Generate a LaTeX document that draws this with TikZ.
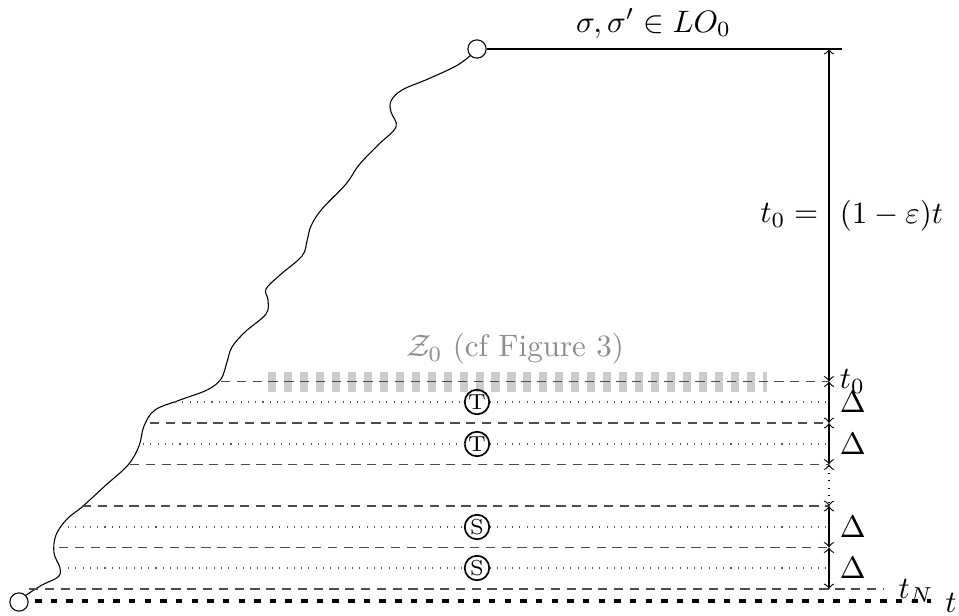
\documentclass[tikz,border=0pt]{standalone}
\begin{document}
\begin{tikzpicture}[x=0.3226pt,y=-0.3226pt,line width=0.35pt,
  endpt/.style={circle,draw,inner sep=0pt,minimum size=5.9pt},
  letter/.style={circle,draw,line width=0.55pt,inner sep=0pt,minimum size=7.9pt,font=\scriptsize},
  lvl/.style={black!70,dash pattern=on 3pt off 2.1pt},
  mid/.style={black!65,dotted},
  meas/.style={<->},
  zband/.style={black!20,line width=6.45pt,dash pattern=on 2.6pt off 2.55pt},
  timeline/.style={line width=1.6pt,dash pattern=on 2.1pt off 2.95pt},
]
\useasboundingbox (0,0) rectangle (959,615);

% end points
\node[endpt] (top) at (477,49) {};
\node[endpt] (bot) at (19,602) {};
\coordinate (topR) at (842,49);
\draw (top) -- node[above,pos=0.47] {$\sigma,\sigma'\in LO_0$} (topR);

% wavy trajectory
\draw plot[smooth,tension=0.6] coordinates {
 (25.5,595.5) (42,585) (58,577) (60,568) (54,553) (56,535) (67,519) (82,507)
 (106,485) (128,465) (139,446) (144,426) (155,410) (180,400) (207,390) (221,379)
 (227,362) (232,347) (245,332) (266,314) (268,300) (266,289) (280,275)
 (302,256) (307,241) (311,226) (322,209) (346,184) (359,165) (378,145)
 (396,127) (391,112) (391,101) (402,90) (428,79) (456,66) (470.5,55.5)};

% measuring axis
\coordinate (a0) at (829,49);
\coordinate (a1) at (829,381.5);
\coordinate (a2) at (829,423);
\coordinate (a3) at (829,464.5);
\coordinate (a4) at (829,506);
\coordinate (a5) at (829,547.5);
\coordinate (a6) at (829,589);

% Z_0 band
\draw[zband] (268,381.5) -- (767,381.5);
\node[text=black!45] (Z) at (515,349) {$\mathcal{Z}_0$ (cf Figure 3)};

% level lines
\coordinate (s1) at (221,381.5);
\coordinate (s2) at (150,423);
\coordinate (s3) at (130,464.5);
\coordinate (s4) at (82,506);
\coordinate (s5) at (59,547.5);
\coordinate (s6) at (29,589);
\coordinate (e6) at (883,589);
\draw[lvl] (s1) -- (a1);
\draw[lvl] (s2) -- (a2);
\draw[lvl] (s3) -- (a3);
\draw[lvl] (s4) -- (a4);
\draw[lvl] (s5) -- (a5);
\draw[lvl] (s6) -- (e6);

% middle dotted lines with markers
\node[letter] (T1) at (477,402) {T};
\node[letter] (T2) at (477,444) {T};
\node[letter] (S1) at (477,527) {S};
\node[letter] (S2) at (477,568) {S};
\coordinate (d1) at (175,402);
\coordinate (f1) at (828,402);
\coordinate (d2) at (143,444);
\coordinate (f2) at (828,444);
\coordinate (d3) at (68,527);
\coordinate (f3) at (828,527);
\coordinate (d4) at (68,568);
\coordinate (f4) at (828,568);
\draw[mid] (d1) -- (T1) (T1) -- (f1);
\draw[mid] (d2) -- (T2) (T2) -- (f2);
\draw[mid] (d3) -- (S1) (S1) -- (f3);
\draw[mid] (d4) -- (S2) (S2) -- (f4);

% arrows
\draw[meas] (a0) -- node[right] {$(1-\varepsilon)t$} node[left] {$t_0=$} (a1);
\draw[meas] (a1) -- node[right] {$\Delta$} (a2);
\draw[meas] (a2) -- node[right] {$\Delta$} (a3);
\draw[meas,dotted] (a3) -- (a4);
\draw[meas] (a4) -- node[right] {$\Delta$} (a5);
\draw[meas] (a5) -- node[right] {$\Delta$} (a6);
\node[right] (t0lab) at (a1) {$t_0$};
\node (tNlab) at (916,591) {$t_N$};

% time line
\node (tlab) at (951,603) {$t$};
\coordinate (tl0) at (35,601);
\coordinate (tl1) at (931,601);
\draw[timeline] (tl0) -- (tl1);
\end{tikzpicture}
\end{document}
